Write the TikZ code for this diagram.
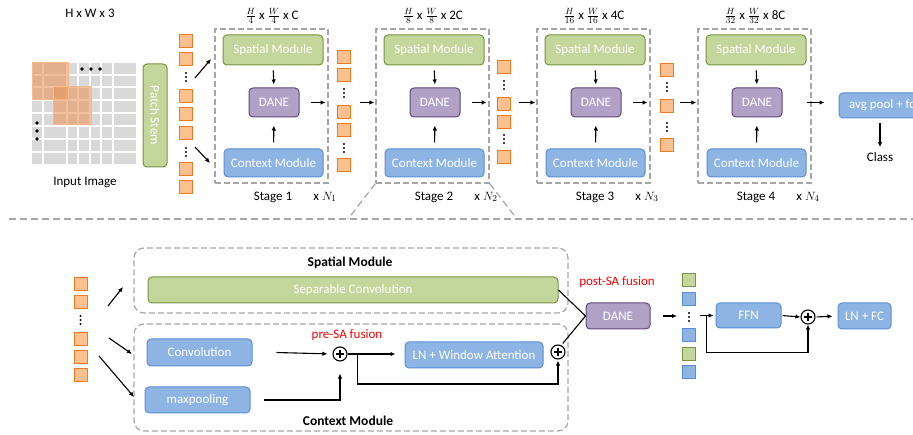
\documentclass[tikz,border=0pt]{standalone}
\usepackage{fontspec}
\setmainfont{Carlito}
\usetikzlibrary{arrows.meta,calc}

\definecolor{gfill}{HTML}{C3D69B}
\definecolor{gline}{HTML}{77933C}
\definecolor{bfill}{HTML}{8DB4E2}
\definecolor{bline}{HTML}{5B8FD5}
\definecolor{pfill}{HTML}{B2A1C7}
\definecolor{pline}{HTML}{5F497A}
\definecolor{ofill}{HTML}{FAC090}
\definecolor{oline}{HTML}{F07A22}
\definecolor{dgray}{HTML}{A6A6A6}
\definecolor{cellgray}{HTML}{D9D9D9}
\definecolor{patchfill}{HTML}{E8955A}
\definecolor{patchline}{HTML}{F6B98C}
\definecolor{fusionred}{HTML}{FF0000}

\newcommand\boxfont{\fontsize{13}{15}\selectfont}
\newcommand\headfont{\fontsize{13.5}{15}\selectfont\bfseries}
% one column of token squares: name prefix, x centre, list of top edges
\newcommand\tokcol[3]{\foreach \t [count=\k] in {#3} {\node[tok] (#1\k) at (#2,\t+7) {};}}
% three small stacked dots
\newcommand\vdts[2]{\foreach \d in {-4,0,4} {\fill (#1,#2+\d) circle (1.1);}}

\begin{document}
\begin{tikzpicture}[x=1pt,y=-1pt,
  modbox/.style={rounded corners=4pt, line width=1pt, text=white, font=\boxfont, inner sep=0pt},
  greenbox/.style={modbox, draw=gline, fill=gfill},
  bluebox/.style={modbox, draw=bline, fill=bfill},
  purplebox/.style={modbox, draw=pline, fill=pfill},
  tok/.style={draw=oline, fill=ofill, line width=1pt, minimum size=13pt, inner sep=0pt},
  gtok/.style={draw=gline, fill=gfill, line width=1pt, minimum size=13pt, inner sep=0pt},
  btok/.style={draw=bline, fill=bfill, line width=1pt, minimum size=13pt, inner sep=0pt},
  stagebox/.style={draw=dgray, line width=1.2pt, dash pattern=on 6pt off 3pt, inner sep=0pt},
  groupbox/.style={stagebox, rounded corners=10pt},
  sepline/.style={draw=dgray, line width=1.2pt, dash pattern=on 7pt off 4pt},
  arr/.style={-{Latex[length=5pt,width=4.5pt]}, line width=1.1pt},
  link/.style={line width=1.1pt},
  lbl/.style={font=\boxfont, inner sep=1pt},
  plus/.style={circle, draw, line width=1.1pt, minimum size=14pt, inner sep=0pt,
    path picture={\draw[line width=1.3pt]
      ([xshift=-4pt]path picture bounding box.center) -- ([xshift=4pt]path picture bounding box.center)
      ([yshift=-4pt]path picture bounding box.center) -- ([yshift=4pt]path picture bounding box.center);}},
]
\fill[white] (0,0) rectangle (913,435);
\clip (0,0) rectangle (913,435);

% ---------------- input image ----------------
\node[lbl] at (90,13) {H x W x 3};
\fill[cellgray] (32,63) rectangle (136,164);
\foreach \c in {43,67,78,90,101,113} {\draw[white, line width=1.3pt] (\c,63) -- (\c,164);}
\foreach \r in {75,87,100,113,126,139,152} {\draw[white, line width=1.3pt] (32,\r) -- (136,\r);}
\fill[patchfill, fill opacity=0.6] (32,63) rectangle (68,100);
\fill[patchfill, fill opacity=0.6] (53,87) rectangle (91,125);
\draw[patchline, line width=1pt] (32,63) rectangle (68,100);
\draw[patchline, line width=1pt] (53,87) rectangle (91,125);
\foreach \p in {82,91,100} {\fill (\p,69) circle (1.8);}
\foreach \p in {123,131,139} {\fill (37,\p) circle (1.8);}
\node[lbl] at (85,182) {Input Image};

% patch stem and first tokens
\node[greenbox, rotate=-90, minimum width=103pt, minimum height=24pt] (stem) at (155,115.5) {Patch Stem};
\tokcol{a}{186}{34,52,89,107,126,162,180}
\vdts{186}{77}
\vdts{186}{152}

% ---------------- four stages ----------------
\foreach \i/\L/\dim in {1/215/{$\frac{H}{4}$ x $\frac{W}{4}$ x C},
                        2/376/{$\frac{H}{8}$ x $\frac{W}{8}$ x 2C},
                        3/537/{$\frac{H}{16}$ x $\frac{W}{16}$ x 4C},
                        4/698/{$\frac{H}{32}$ x $\frac{W}{32}$ x 8C}} {
  \node[stagebox, minimum width=113pt, minimum height=154pt] (st\i) at (\L+56.5,106) {};
  \node[greenbox, minimum width=100pt, minimum height=30pt] (sp\i) at (\L+58,50) {Spatial Module};
  \node[purplebox, minimum width=50pt, minimum height=29pt] (dn\i) at (\L+59,102.5) {DANE};
  \node[bluebox, minimum width=99pt, minimum height=28pt] (cx\i) at (\L+58.5,163) {Context Module};
  \draw[arr, shorten <=5pt, shorten >=3pt] (sp\i.south) -- (dn\i.north);
  \draw[arr, shorten <=6pt, shorten >=8pt] (cx\i.north) -- (dn\i.south);
  \node[lbl] at (\L+58,197) {Stage \i};
  \node[lbl] at (\L+110,197) {x $N_{\i}$};
  \node[lbl] at (\L+57,16) {\dim};
}

\coordinate (a1to) at (211,59);
\coordinate (a1from) at (195,78);
\coordinate (a2to) at (210,163);
\coordinate (a2from) at (195,147);
\draw[arr] (a1from) -- (a1to);
\draw[arr] (a2from) -- (a2to);

% tokens between stages
\tokcol{b}{344}{50,68,105,123,158}
\vdts{344}{93}
\vdts{344}{148}
\tokcol{c}{504}{60,97,115,150}
\vdts{504}{85}
\vdts{504}{139}
\tokcol{d}{667}{63,99,138}
\vdts{667}{87}
\vdts{667}{127}

\foreach \i in {1,2,3} {
  \draw[arr] ([xshift=11pt]dn\i.east) -- ([xshift=-3pt]st\i.east |- dn\i.east);
}
\draw[arr] ([xshift=9pt]b3.east |- dn2.west) -- ([xshift=-1pt]st2.west |- dn2.west);
\draw[arr] ([xshift=8pt]c3.east |- dn3.west) -- ([xshift=-1pt]st3.west |- dn3.west);
\draw[arr] ([xshift=6pt]d2.east |- dn4.west) -- ([xshift=-1pt]st4.west |- dn4.west);

% head
\node[bluebox, minimum width=86pt, minimum height=25pt] (avg) at (882,105.5) {avg pool + fc};
\draw[arr] ([xshift=-5pt]st4.east |- dn4.east) -- ([xshift=-14pt]avg.west |- dn4.east);
\node[lbl] (cls) at (880,157) {Class};
\draw[arr] (cls.north |- avg.south) ++(0,5) -- ([yshift=4pt]cls.north);

% ---------------- separator and zoom lines ----------------
\coordinate (zl) at (348,219);
\coordinate (zr) at (517,219);
\draw[sepline] (9,219) -- (913,219);
\draw[sepline] (st2.south west) -- (zl);
\draw[sepline] (st2.south east) -- (zr);

% ---------------- block detail ----------------
\tokcol{f}{80.5}{277,295,332,350,368}
\vdts{80.5}{320}

\node[groupbox, minimum width=434pt, minimum height=65pt] (sbox) at (351,280.5) {};
\node[groupbox, minimum width=434pt, minimum height=107pt] (cbox) at (351,377.5) {};
\node[font=\headfont, inner sep=1pt] at (350,263) {Spatial Module};
\node[font=\headfont, inner sep=1pt, fill=white] at (348,421) {Context Module};

\coordinate (f1from) at (108,306);
\coordinate (f1to) at (123,287);
\coordinate (f2from) at (109,338);
\coordinate (f2to) at (132,354);
\coordinate (f3from) at (99,356);
\coordinate (f3to) at (134,397);
\draw[arr] (f1from) -- (f1to);
\draw[arr] (f2from) -- (f2to);
\draw[arr] (f3from) -- (f3to);

\node[greenbox, minimum width=410pt, minimum height=26pt] (sep) at (353,290) {Separable Convolution};
\node[bluebox, minimum width=105pt, minimum height=27pt] (conv) at (199.5,352.5) {Convolution};
\node[bluebox, minimum width=105pt, minimum height=26pt] (mp) at (197.5,400) {maxpooling};
\node[plus] (p1) at (340,354) {};
\node[bluebox, minimum width=138pt, minimum height=26pt] (lnwa) at (474,355) {LN + Window Attention};
\node[plus] (p2) at (558,352) {};
\node[font=\boxfont, text=fusionred, inner sep=1pt] at (347,335) {pre-SA fusion};

\draw[arr, shorten >=5pt] ([xshift=24pt]conv.east) -- (p1.west);
\draw[arr, shorten >=12pt] ([xshift=13pt]mp.east) -| (p1.south);
\draw[arr] (p1.east) -- ([xshift=-9pt]lnwa.west |- p1.east);
\draw[arr] ([xshift=10pt]p1.east) -- ++(0,30) -| ([yshift=-1pt]p2.south);

\node[purplebox, minimum width=64pt, minimum height=26pt] (dn) at (618,316) {DANE};
\node[font=\boxfont, text=fusionred, inner sep=1pt] at (617,282) {post-SA fusion};
\draw[link] (sep.east) -- (dn.west);
\draw[link] ([shift={(1pt,2pt)}]p2.60) -- (dn.west);

% mixed tokens after fusion
\node[gtok] (e1) at (689,280) {};
\node[btok] (e2) at (689,299) {};
\node[btok] (e3) at (689,335) {};
\node[gtok] (e4) at (689,354) {};
\node[btok] (e5) at (689,372) {};
\vdts{689}{317}

\node[bluebox, minimum width=65pt, minimum height=25pt] (ffn) at (748.5,315.5) {FFN};
\node[plus] (p3) at (808,317) {};
\node[bluebox, minimum width=53pt, minimum height=26pt] (lnfc) at (864.5,316) {LN + FC};

\draw[arr] ([xshift=12pt]dn.east) -- ([xshift=-5pt]e3.west |- dn.east);
\draw[arr] ([xshift=4pt]e3.east |- ffn.west) -- ([xshift=-2pt]ffn.west);
\draw[arr] ([xshift=-9pt]ffn.west) -- ++(0,37) -| (p3.south);
\draw[arr, shorten <=1pt] (ffn.east) -- (p3.west);
\draw[arr, shorten <=1pt, shorten >=5pt] (p3.east) -- (lnfc.west);
\end{tikzpicture}
\end{document}
